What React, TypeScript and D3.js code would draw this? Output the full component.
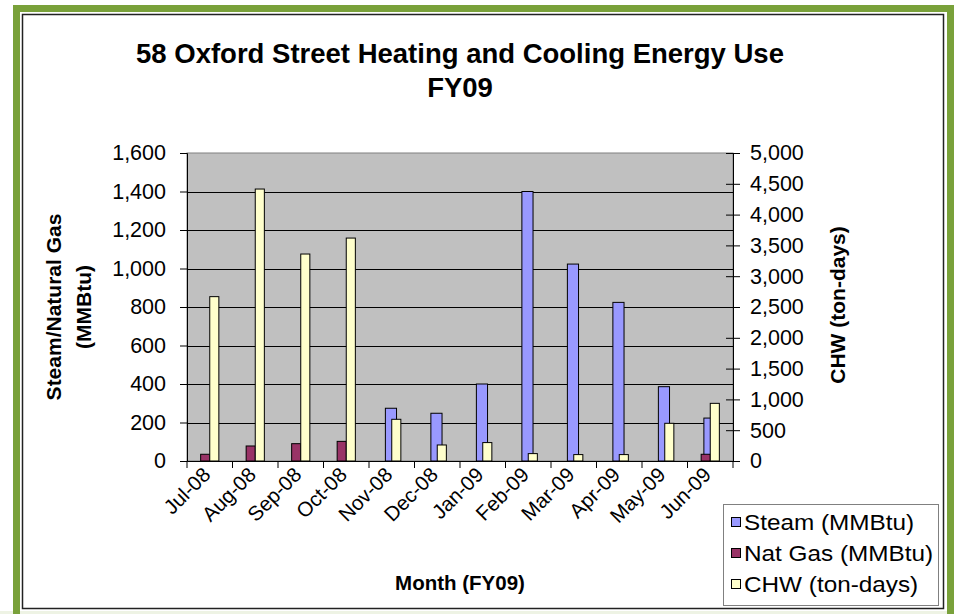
import React, { useEffect, useRef } from 'react';
import * as d3 from 'd3';

const months = ['Jul-08', 'Aug-08', 'Sep-08', 'Oct-08', 'Nov-08', 'Dec-08', 'Jan-09', 'Feb-09', 'Mar-09', 'Apr-09', 'May-09', 'Jun-09'];
const steam = [0, 0, 0, 0, 274, 248, 400, 1400, 1023, 824, 386, 223];
const natGas = [35, 78, 90, 102, 0, 0, 0, 0, 0, 0, 0, 35];
const chw = [2668, 4415, 3360, 3619, 677, 260, 299, 120, 104, 104, 612, 936];
const leftTicks = [0, 200, 400, 600, 800, 1000, 1200, 1400, 1600];
const rightTicks = [0, 500, 1000, 1500, 2000, 2500, 3000, 3500, 4000, 4500, 5000];
const seriesNames = ['Steam (MMBtu)', 'Nat Gas (MMBtu)', 'CHW (ton-days)'];
const seriesColors = ['#9999ff', '#993366', '#ffffcc'];

const FONT = 'Liberation Sans, Arial, sans-serif';

function stretch(sel: any, k: number) {
  sel.each(function (this: SVGTextElement) {
    const w = this.getComputedTextLength();
    this.setAttribute('textLength', String(w * k));
    this.setAttribute('lengthAdjust', 'spacingAndGlyphs');
  });
}

const App = () => {
  const svgRef = useRef<SVGSVGElement>(null);

  useEffect(() => {
    const svg = d3.select(svgRef.current);
    svg.selectAll('*').remove();

    const W = 954, H = 614;
    const plot = { left: 187, right: 733, top: 153, bottom: 461 };

    svg.append('rect').attr('width', W).attr('height', H).attr('fill', '#fff');
    svg.append('rect').attr('x', 0).attr('y', 611).attr('width', W).attr('height', 3).attr('fill', '#eef3e4');
    // green frame + inner chart border
    svg.append('rect')
      .attr('x', 16.5).attr('y', 8.5).attr('width', 934).attr('height', 620)
      .attr('fill', 'none').attr('stroke', '#79a13a').attr('stroke-width', 7);
    svg.append('rect')
      .attr('x', 22.5).attr('y', 14.5).attr('width', 921).attr('height', 594)
      .attr('fill', '#fff').attr('stroke', '#222').attr('stroke-width', 1.5);

    const x = d3.scaleBand().domain(months).range([plot.left, plot.right]);
    const yL = d3.scaleLinear().domain([0, 1600]).range([plot.bottom, plot.top]);
    const yR = d3.scaleLinear().domain([0, 5000]).range([plot.bottom, plot.top]);
    const bw = x.bandwidth();

    svg.append('rect')
      .attr('x', plot.left).attr('y', plot.top)
      .attr('width', plot.right - plot.left).attr('height', plot.bottom - plot.top)
      .attr('fill', '#c0c0c0').attr('stroke', '#808080');

    svg.append('g').selectAll('line')
      .data(leftTicks.filter(t => t > 0 && t < 1600))
      .join('line')
      .attr('x1', plot.left).attr('x2', plot.right)
      .attr('y1', d => Math.round(yL(d)) + 0.5).attr('y2', d => Math.round(yL(d)) + 0.5)
      .attr('stroke', '#000');

    const center = (m: string) => (x(m) as number) + bw / 2;

    // steam (primary)
    svg.append('g').selectAll('rect')
      .data(months.map((m, i) => ({ m, v: steam[i] })).filter(d => d.v > 0))
      .join('rect')
      .attr('x', d => center(d.m) - bw * 0.14)
      .attr('width', bw * 0.245)
      .attr('y', d => yL(d.v))
      .attr('height', d => plot.bottom - yL(d.v))
      .attr('fill', seriesColors[0]).attr('stroke', '#000');

    // nat gas (primary)
    svg.append('g').selectAll('rect')
      .data(months.map((m, i) => ({ m, v: natGas[i] })).filter(d => d.v > 0))
      .join('rect')
      .attr('x', d => center(d.m) - bw * 0.2)
      .attr('width', bw * 0.2)
      .attr('y', d => yL(d.v))
      .attr('height', d => plot.bottom - yL(d.v))
      .attr('fill', seriesColors[1]).attr('stroke', '#000');

    // CHW (secondary)
    svg.append('g').selectAll('rect')
      .data(months.map((m, i) => ({ m, v: chw[i] })))
      .join('rect')
      .attr('x', d => center(d.m))
      .attr('width', bw * 0.2)
      .attr('y', d => yR(d.v))
      .attr('height', d => plot.bottom - yR(d.v))
      .attr('fill', seriesColors[2]).attr('stroke', '#000');

    // left axis
    const gl = svg.append('g').attr('transform', `translate(${plot.left},0)`)
      .call(d3.axisLeft(yL).tickValues(leftTicks).tickFormat(d3.format(',')).tickSize(7).tickPadding(14));
    // right axis
    const gr = svg.append('g').attr('transform', `translate(${plot.right},0)`)
      .call(d3.axisRight(yR).tickValues(rightTicks).tickFormat(d3.format(',')).tickSize(7).tickPadding(10));
    gr.selectAll('.tick line').attr('x1', -7);
    // bottom axis
    const gb = svg.append('g').attr('transform', `translate(0,${plot.bottom})`)
      .call(d3.axisBottom(x).tickSize(0).tickFormat(() => ''));
    gb.selectAll('.tick').remove();
    gb.selectAll('line.b')
      .data(d3.range(months.length + 1))
      .join('line')
      .attr('x1', i => plot.left + i * bw).attr('x2', i => plot.left + i * bw)
      .attr('y1', 0).attr('y2', 7).attr('stroke', '#000');

    [gl, gr, gb].forEach(g => {
      g.select('.domain').attr('stroke', '#000');
      g.selectAll('.tick line').attr('stroke', '#000');
      g.selectAll('text').attr('font-family', FONT).attr('font-size', 21.5).attr('fill', '#000');
    });

    svg.append('g').selectAll('text')
      .data(months)
      .join('text')
      .attr('transform', d => `translate(${center(d) + 2},${plot.bottom + 15}) rotate(-45)`)
      .attr('text-anchor', 'end')
      .attr('font-family', FONT).attr('font-size', 20.5)
      .text(d => d);

    // titles
    svg.append('text')
      .attr('x', 460).attr('y', 63).attr('text-anchor', 'middle')
      .attr('font-family', FONT).attr('font-weight', 'bold').attr('font-size', 27.5)
      .text('58 Oxford Street Heating and Cooling Energy Use');
    svg.append('text')
      .attr('x', 460).attr('y', 97).attr('text-anchor', 'middle')
      .attr('font-family', FONT).attr('font-weight', 'bold').attr('font-size', 27.5)
      .text('FY09');

    svg.append('text')
      .attr('transform', 'translate(61,307) rotate(-90)')
      .attr('text-anchor', 'middle')
      .attr('font-family', FONT).attr('font-weight', 'bold').attr('font-size', 21)
      .text('Steam/Natural Gas');
    svg.append('text')
      .attr('transform', 'translate(91,307) rotate(-90)')
      .attr('text-anchor', 'middle')
      .attr('font-family', FONT).attr('font-weight', 'bold').attr('font-size', 21)
      .text('(MMBtu)');
    svg.append('text')
      .attr('transform', 'translate(845,305) rotate(-90)')
      .attr('text-anchor', 'middle')
      .attr('font-family', FONT).attr('font-weight', 'bold').attr('font-size', 21)
      .text('CHW (ton-days)');
    svg.append('text')
      .attr('x', 460).attr('y', 590).attr('text-anchor', 'middle')
      .attr('font-family', FONT).attr('font-weight', 'bold').attr('font-size', 20.5)
      .text('Month (FY09)');

    // legend
    svg.append('rect')
      .attr('x', 723.5).attr('y', 504.5).attr('width', 215).attr('height', 101)
      .attr('fill', '#fff').attr('stroke', '#808080');
    const li = svg.append('g').selectAll('g')
      .data(seriesNames.map((label, i) => ({ label, color: seriesColors[i] })))
      .join('g')
      .attr('transform', (d, i) => `translate(731,${522 + i * 31})`);
    li.append('rect')
      .attr('x', 0.5).attr('y', -4.5).attr('width', 9).attr('height', 9)
      .attr('fill', d => d.color).attr('stroke', '#000');
    const lt = li.append('text')
      .attr('x', 13).attr('y', 8)
      .attr('font-family', FONT).attr('font-size', 22.5)
      .text(d => d.label);
    stretch(lt, 1.08);
  }, []);

  return <svg ref={svgRef} width={954} height={614} style={{ position: 'absolute', left: 0, top: 0 }} />;
};

export default App;
